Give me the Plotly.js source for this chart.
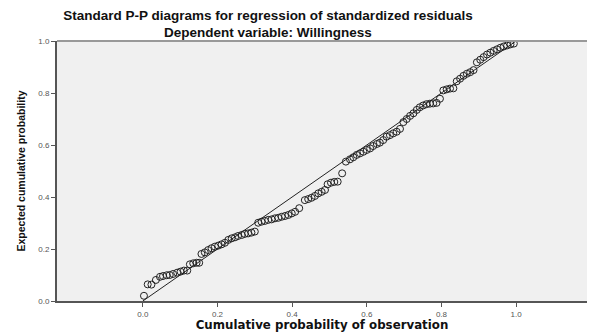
<!DOCTYPE html>
<html>
<head>
<meta charset="utf-8">
<script src="https://cdn.plot.ly/plotly-3.0.1.min.js"></script>
<style>html,body{margin:0;padding:0;background:#fff;}#chart{width:589px;height:332px;}</style>
</head>
<body>
<div id="chart"></div>
<script>
// Observed cumulative probability (x) and expected cumulative probability (y)
const observedProb = [
  0.003,0.013,0.023,0.035,0.046,0.054,0.064,0.072,0.081,0.092,0.101,0.110,0.119,
  0.126,0.135,0.144,0.151,0.157,0.166,0.175,0.184,0.193,0.202,0.211,0.220,0.229,
  0.238,0.247,0.255,0.265,0.273,0.282,0.291,0.300,
  0.309,0.318,0.327,0.336,0.345,0.354,0.363,0.372,0.381,0.390,0.399,0.408,0.419,
  0.434,0.443,0.452,0.461,0.470,0.479,0.488,0.495,0.504,0.513,0.522,0.534,
  0.544,0.555,0.564,0.573,0.582,0.591,0.600,0.609,0.617,0.627,0.635,0.644,0.653,
  0.662,0.671,0.680,0.689,0.698,0.707,0.716,0.725,0.734,0.742,0.751,0.760,0.769,
  0.778,0.787,0.796,0.805,0.814,0.823,0.832,0.841,0.850,0.859,0.868,0.877,0.886,
  0.895,0.904,0.913,0.922,0.931,0.940,0.949,0.958,0.967,0.976,0.985,0.994
];
const expectedProb = [
  0.020,0.064,0.063,0.081,0.093,0.096,0.099,0.100,0.104,0.109,0.113,0.117,0.117,
  0.141,0.145,0.147,0.147,0.181,0.187,0.196,0.203,0.209,0.213,0.218,0.224,0.235,
  0.241,0.245,0.250,0.254,0.258,0.260,0.263,0.267,
  0.301,0.305,0.308,0.312,0.314,0.318,0.320,0.324,0.327,0.331,0.337,0.343,0.357,
  0.388,0.392,0.397,0.404,0.414,0.420,0.427,0.449,0.455,0.458,0.459,0.491,
  0.536,0.545,0.553,0.562,0.568,0.574,0.581,0.587,0.596,0.604,0.609,0.619,0.632,
  0.638,0.645,0.651,0.662,0.688,0.700,0.712,0.722,0.735,0.745,0.752,0.757,0.759,
  0.760,0.762,0.778,0.810,0.814,0.817,0.818,0.845,0.855,0.866,0.874,0.880,0.888,
  0.918,0.928,0.938,0.948,0.955,0.962,0.968,0.974,0.979,0.983,0.987,0.990
];
// Reference diagonal
const refX = [0, 1];
const refY = [0, 1];
const tickVals = [0, 0.2, 0.4, 0.6, 0.8, 1.0];
const tickText = ["0.0", "0.2", "0.4", "0.6", "0.8", "1.0"];

const titleLine1 = "Standard P-P diagrams for regression of standardized residuals";
const titleLine2 = "Dependent variable: Willingness";
const xTitle = "Cumulative probability of observation";
const yTitle = "Expected cumulative probability";

const FONT = "Liberation Sans, Arial, sans-serif";
const WIDE = "DejaVu Sans, Liberation Sans, sans-serif";
const NARROW = "Liberation Sans Narrow, Arial Narrow, Liberation Sans, sans-serif";

const traces = [
  {
    x: refX, y: refY, type: "scatter", mode: "lines",
    line: {color: "#222", width: 1}, hoverinfo: "skip", showlegend: false
  },
  {
    x: observedProb, y: expectedProb, type: "scatter", mode: "markers",
    marker: {symbol: "circle-open", size: 7, color: "#222", line: {width: 1, color: "#222"}},
    showlegend: false
  }
];

const layout = {
  width: 589, height: 332,
  margin: {l: 57, r: 2, t: 41, b: 31},
  paper_bgcolor: "#ffffff",
  plot_bgcolor: "#f0f0f0",
  font: {family: FONT, color: "#222"},
  title: {
    text: "<b>" + titleLine1 + "</b>",
    font: {family: FONT, size: 13.5, color: "#111"},
    xref: "container", yref: "container", x: 0.455, y: 0.955,
    xanchor: "center", yanchor: "middle"
  },
  annotations: [{
    text: "<b>" + titleLine2 + "</b>",
    xref: "paper", yref: "paper", x: 0.398, y: 1.031,
    xanchor: "center", yanchor: "middle", showarrow: false,
    font: {family: FONT, size: 13.5, color: "#111"}
  }],
  xaxis: {
    range: [-0.23, 1.19],
    tickvals: tickVals, ticktext: tickText,
    ticks: "outside", ticklen: 4, tickcolor: "#555", tickwidth: 1,
    showgrid: false, zeroline: false,
    showline: true, linecolor: "#555", linewidth: 2,
    tickfont: {family: FONT, size: 8, color: "#555"},
    title: {text: "<b>" + xTitle + "</b>", font: {family: WIDE, size: 11.8, color: "#111"}, standoff: 5}
  },
  yaxis: {
    range: [0, 1],
    tickvals: tickVals, ticktext: tickText,
    ticks: "outside", ticklen: 4, tickcolor: "#555", tickwidth: 1,
    showgrid: false, zeroline: false,
    showline: true, linecolor: "#555", linewidth: 2,
    tickfont: {family: FONT, size: 8, color: "#555"},
    title: {text: "<b>" + yTitle + "</b>", font: {family: NARROW, size: 10.5, color: "#111"}, standoff: 11}
  },
  shapes: [{
    type: "line", xref: "paper", yref: "paper", x0: 0, x1: 1, y0: 1, y1: 1,
    line: {color: "#999", width: 2}
  }]
};

Plotly.newPlot("chart", traces, layout, {displayModeBar: false, staticPlot: true});
</script>
</body>
</html>
